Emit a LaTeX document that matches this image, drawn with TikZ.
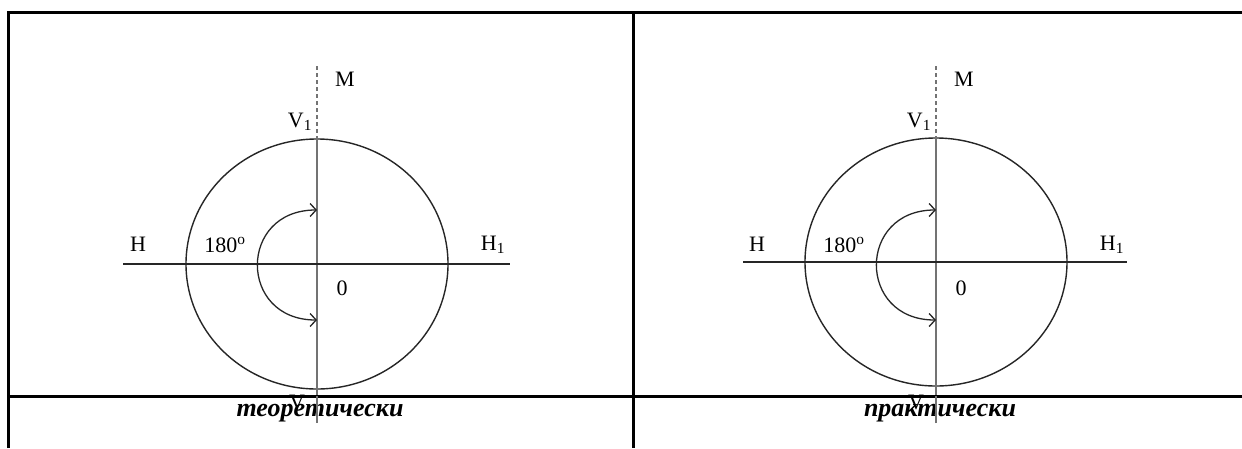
\documentclass[tikz,border=0pt]{standalone}
\usepackage{fontspec}
\setmainfont{Liberation Serif}
\usetikzlibrary{arrows.meta, positioning}

\tikzset{
  grid line/.style={line width=3pt, black},
  axis/.style={line width=1.5pt, black!85},
  pole/.style={line width=1.8pt, black!55},
  ring/.style={line width=1.4pt, black!85},
  turn/.style={line width=1.3pt, black!85, <->},
  lbl/.style={font=\fontsize{22}{24}\selectfont, inner sep=0pt},
  caption/.style={font=\fontsize{26}{28}\selectfont\bfseries\itshape, inner sep=0pt}
}

\begin{document}
\begin{tikzpicture}[x=1pt, y=-1pt, >={Straight Barb[length=6pt, width=13pt]}]

  \useasboundingbox (0,0) rectangle (1242,448);
  \fill[white] (0,0) rectangle (1242,448);

  % --- left panel: theoretical ---
  \begin{scope}[name prefix=l-]
    \coordinate (O) at (317,264);
    \coordinate (top) at (317,66);
    \coordinate (bot) at (317,423);
    \coordinate (west) at (123,264);
    \coordinate (east) at (510,264);
    \draw[ring] (O) ellipse (131 and 125);
    \coordinate (V1) at (317,139);
    \draw[pole, dash pattern=on 4pt off 3pt] (top) -- (V1);
    \draw[pole] (V1) -- (bot);
    \draw[axis] (west) -- (east);
    % arc arrow
    \coordinate (a1) at (317,210);
    \coordinate (a2) at (317,320);
    \draw[turn] (a1) .. controls (238,210) and (238,320) .. (a2);
    % labels
    \node[lbl] (M) at (345,79) {M};
    \node[lbl] (V1lbl) at (300,122) {V\textsubscript{1}};
    \node[lbl] (H) at (138,244) {H};
    \node[lbl] (deg) at (225,245) {180\textsuperscript{o}};
    \node[lbl] (zero) at (342,288) {0};
    \node[lbl] (H1) at (493,245) {H\textsubscript{1}};
    \node[lbl] (V) at (297,402) {V};
  \end{scope}

  % --- right panel: practical ---
  \begin{scope}[shift={(619,-2)}, name prefix=r-]
    \coordinate (O) at (317,264);
    \coordinate (top) at (317,68);
    \coordinate (bot) at (317,425);
    \coordinate (west) at (124,264);
    \coordinate (east) at (508,264);
    \draw[ring] (O) ellipse (131 and 124);
    \coordinate (V1) at (317,140);
    \draw[pole, dash pattern=on 4pt off 3pt] (top) -- (V1);
    \draw[pole] (V1) -- (bot);
    \draw[axis] (west) -- (east);
    % arc arrow
    \coordinate (a1) at (317,212);
    \coordinate (a2) at (317,322);
    \draw[turn] (a1) .. controls (238,212) and (238,322) .. (a2);
    % labels
    \node[lbl] (M) at (345,81) {M};
    \node[lbl] (V1lbl) at (300,124) {V\textsubscript{1}};
    \node[lbl] (H) at (138,246) {H};
    \node[lbl] (deg) at (225,247) {180\textsuperscript{o}};
    \node[lbl] (zero) at (342,290) {0};
    \node[lbl] (H1) at (493,247) {H\textsubscript{1}};
    \node[lbl] (V) at (297,404) {V};
  \end{scope}

  % --- table frame ---
  \draw[grid line] (8,448) -- (8,12) -- (1242,12);
  \draw[grid line] (633,12) -- (633,448);
  \draw[grid line] (8,396) -- (1242,396);

  % --- captions ---
  \node[caption] (capl) at (320,413) {теоретически};
  \node[caption] (capr) at (940,413) {практически};

  % vertical poles run over the captions
  \draw[pole] (317,396) -- (l-bot);
  \draw[pole] (r-bot) -- (936,396);

\end{tikzpicture}
\end{document}
